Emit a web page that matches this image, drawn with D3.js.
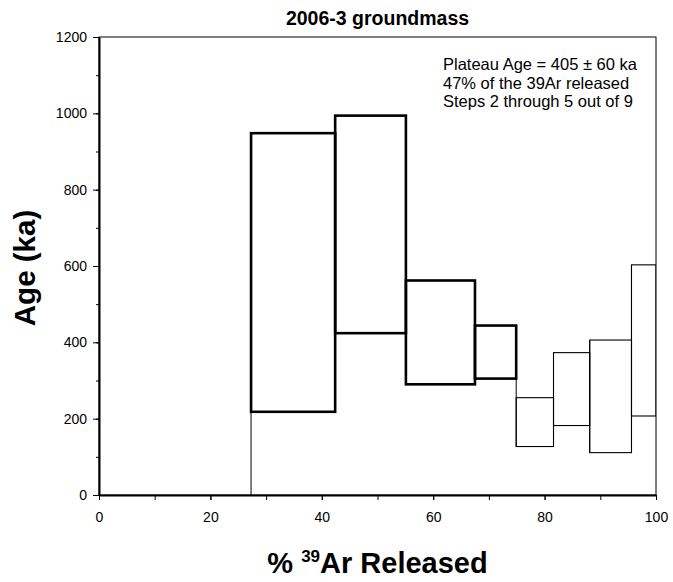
<!DOCTYPE html>
<html>
<head>
<meta charset="utf-8">
<script src="https://cdn.jsdelivr.net/npm/d3@7"></script>
<style>
  body { margin: 0; background: #fff; }
  text { font-family: "Liberation Sans", Arial, sans-serif; }
</style>
</head>
<body>
<div id="chart"></div>
<script>
// step data: cumulative % 39Ar released (start, end), age range (ka)
var stepStart = [0, 27.3, 42.4, 55.1, 67.5, 74.9, 81.6, 88.1, 95.6];
var stepEnd   = [27.3, 42.4, 55.1, 67.5, 74.9, 81.6, 88.1, 95.6, 100];
var ageLow    = [-300, 218, 424, 290, 305, 127, 182, 111, 207];
var ageHigh   = [-40, 948, 994, 562, 444, 255, 373, 406, 603];
var plateau   = [false, true, true, true, true, false, false, false, false];
var xTicks = [0, 20, 40, 60, 80, 100];
var yTicks = [0, 200, 400, 600, 800, 1000, 1200];
var notes = ["Plateau Age = 405 \u00b1 60 ka", "47% of the 39Ar released", "Steps 2 through 5 out of 9"];

var steps = stepStart.map(function (s, i) {
    return { x0: s, x1: stepEnd[i], lo: ageLow[i], hi: ageHigh[i], plateau: plateau[i] };
});

// set the dimensions and margins of the graph
var margin = { top: 37, right: 17, bottom: 87, left: 99 },
    width = 673 - margin.left - margin.right,
    height = 582 - margin.top - margin.bottom;

var svg = d3.select("#chart")
    .append("svg")
    .attr("width", 673)
    .attr("height", 582);

var g = svg.append("g")
    .attr("transform", "translate(" + margin.left + "," + margin.top + ")");

var x = d3.scaleLinear().domain([0, 100]).range([0, width]);
var y = d3.scaleLinear().domain([0, 1200]).range([height, 0]);

g.append("clipPath").attr("id", "clip")
    .append("rect").attr("width", width).attr("height", height);

var plot = g.append("g").attr("clip-path", "url(#clip)");

// connectors between neighbouring steps
var links = steps.slice(1).map(function (d, i) {
    var p = steps[i];
    return { x: d.x0, lo: Math.min(p.lo, d.lo), hi: Math.max(p.hi, d.hi) };
});
plot.selectAll(".link")
    .data(links)
    .enter()
    .append("line")
    .attr("x1", function (d) { return x(d.x) })
    .attr("x2", function (d) { return x(d.x) })
    .attr("y1", function (d) { return y(d.lo) })
    .attr("y2", function (d) { return y(d.hi) })
    .attr("stroke", "#000")
    .attr("stroke-width", 1);

// step boxes
plot.selectAll(".step")
    .data(steps)
    .enter()
    .append("rect")
    .attr("x", function (d) { return x(d.x0) })
    .attr("width", function (d) { return x(d.x1) - x(d.x0) })
    .attr("y", function (d) { return y(d.hi) })
    .attr("height", function (d) { return y(d.lo) - y(d.hi) })
    .attr("fill", "none")
    .attr("stroke", "#000")
    .attr("stroke-width", function (d) { return d.plateau ? 2.6 : 1.1 });

// frame
g.append("rect")
    .attr("width", width)
    .attr("height", height)
    .attr("fill", "none")
    .attr("stroke", "#000")
    .attr("stroke-width", 1);

// X axis
g.append("g")
    .attr("transform", "translate(0," + height + ")")
    .call(d3.axisBottom(x).tickValues(d3.range(0, 101, 10)).tickSize(5).tickSizeOuter(0).tickFormat(""))
    .call(function (a) { a.select(".domain").attr("stroke-width", 2); });
g.append("g")
    .attr("transform", "translate(0," + height + ")")
    .call(d3.axisBottom(x).tickValues(xTicks).tickSize(5).tickPadding(12).tickFormat(d3.format("d")))
    .attr("font-size", 14)
    .attr("font-family", "Liberation Sans, Arial, sans-serif")
    .call(function (a) {
        a.select(".domain").remove();
        a.selectAll("text").attr("fill", "#000");
    });

// Y axis
g.append("g")
    .call(d3.axisLeft(y).tickValues(d3.range(0, 1201, 100)).tickSize(3).tickSizeOuter(0).tickFormat(""))
    .call(function (a) { a.select(".domain").attr("stroke-width", 2); });
g.append("g")
    .call(d3.axisLeft(y).tickValues(yTicks).tickSize(6).tickPadding(6).tickFormat(d3.format("d")))
    .attr("font-size", 14)
    .attr("font-family", "Liberation Sans, Arial, sans-serif")
    .call(function (a) {
        a.select(".domain").remove();
        a.selectAll("text").attr("fill", "#000");
    });

// title
svg.append("text")
    .attr("x", margin.left + width / 2)
    .attr("y", 25)
    .attr("text-anchor", "middle")
    .attr("font-size", 19.5)
    .attr("font-weight", "bold")
    .text("2006-3 groundmass");

// plateau notes
svg.append("g").selectAll("text")
    .data(notes)
    .enter()
    .append("text")
    .attr("x", 443)
    .attr("y", function (d, i) { return 70 + i * 18.5 })
    .attr("font-size", 16.5)
    .text(function (d) { return d });

// axis titles
svg.append("text")
    .attr("transform", "translate(35,268) rotate(-90)")
    .attr("text-anchor", "middle")
    .attr("font-size", 29.5)
    .attr("font-weight", "bold")
    .text("Age (ka)");

var xl = svg.append("text")
    .attr("x", margin.left + width / 2)
    .attr("y", 573)
    .attr("text-anchor", "middle")
    .attr("font-size", 29)
    .attr("font-weight", "bold");
xl.append("tspan").text("% ");
xl.append("tspan").attr("font-size", 17).attr("dy", -11).text("39");
xl.append("tspan").attr("dy", 11).text("Ar Released");
</script>
</body>
</html>
